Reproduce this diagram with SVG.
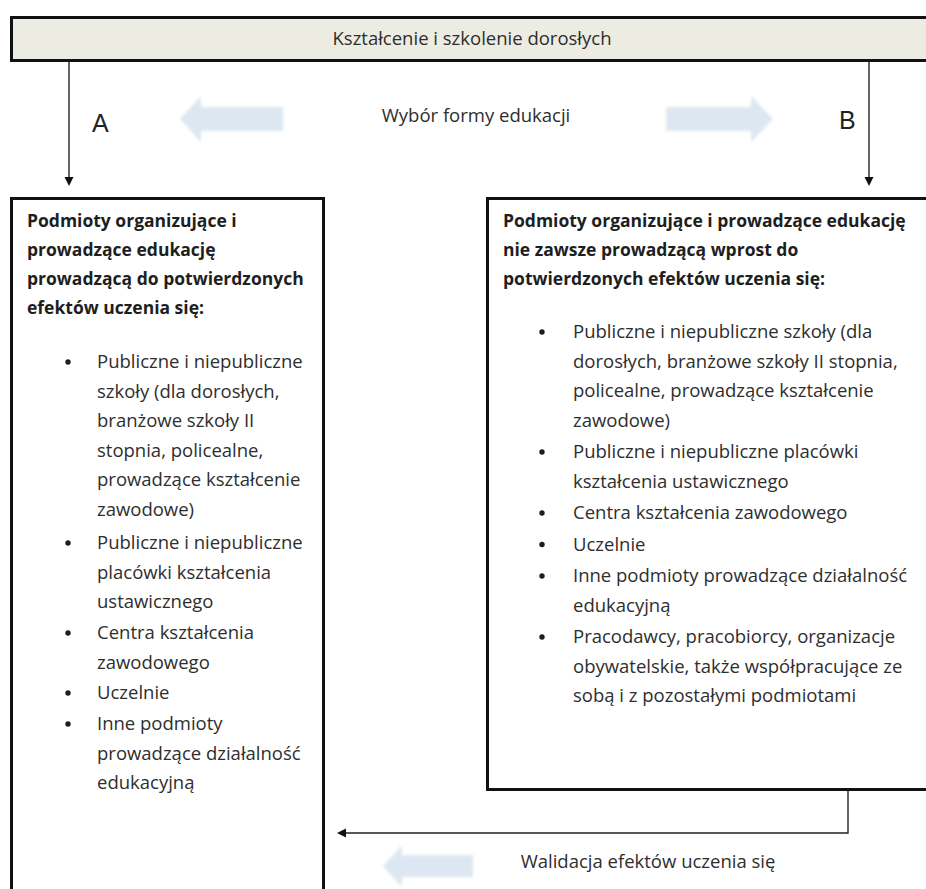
<svg xmlns="http://www.w3.org/2000/svg" width="926" height="889" viewBox="0 0 926 889">
  <style>
    .frame { fill: #ffffff; stroke: #111111; stroke-width: 3; }
    .bar { fill: #edece2; stroke: #111111; stroke-width: 3; }
    .conn { fill: none; stroke: #222222; stroke-width: 1.4; }
    .head { fill: #111111; }
    .txt { font-family: "Open Sans", "Noto Sans", sans-serif; font-size: 18.5px; fill: #2e2e2e; }
    .hdr { font-family: "Open Sans", "Noto Sans", sans-serif; font-size: 17.5px; font-weight: bold; fill: #1e1e1e; }
    .lbl { font-family: "Liberation Sans", Arial, sans-serif; font-size: 25px; fill: #222222; }
    .blk { fill: #dde7f2; }
    .dot { fill: #1e1e1e; }
  </style>
  <defs>
    <filter id="soft" x="-10%" y="-30%" width="120%" height="160%">
      <feGaussianBlur stdDeviation="1.6"/>
    </filter>
  </defs>

  <rect x="0" y="0" width="926" height="889" fill="#ffffff"/>

  <!-- top banner -->
  <g id="banner">
    <rect class="bar" x="11.5" y="17.5" width="930" height="43"/>
    <text class="txt" x="472" y="45" text-anchor="middle">Kształcenie i szkolenie dorosłych</text>
  </g>

  <!-- choice label with pale direction arrows -->
  <g id="choice">
    <text class="txt" x="476" y="122" text-anchor="middle">Wybór formy edukacji</text>
    <path class="blk" filter="url(#soft)" d="M283,107 L201,107 L201,96 L180,119 L201,142 L201,131 L283,131 Z"/>
    <path class="blk" filter="url(#soft)" d="M666,107 L751,107 L751,96 L773,119 L751,142 L751,131 L666,131 Z"/>
  </g>

  <!-- connectors -->
  <g id="connectors">
    <line class="conn" x1="69" y1="62" x2="69" y2="178"/>
    <polygon class="head" points="64.5,177 73.5,177 69,186"/>
    <line class="conn" x1="869" y1="62" x2="869" y2="178"/>
    <polygon class="head" points="864.5,177 873.5,177 869,186"/>
    <polyline class="conn" points="848,791 848,833 345,833"/>
    <polygon class="head" points="337,833 346,828.5 346,837.5"/>
    <text class="lbl" x="92" y="132">A</text>
    <text class="lbl" x="839" y="129">B</text>
  </g>

  <!-- path A: formal education -->
  <g id="box-a">
    <rect class="frame" x="11.5" y="198.5" width="312" height="720"/>
    <text class="hdr" x="27" y="227">Podmioty organizujące i</text>
    <text class="hdr" x="27" y="256">prowadzące edukację</text>
    <text class="hdr" x="27" y="285">prowadzącą do potwierdzonych</text>
    <text class="hdr" x="27" y="314">efektów uczenia się:</text>

    <circle class="dot" cx="68" cy="362" r="2.7"/>
    <text class="txt" x="97" y="368">Publiczne i niepubliczne</text>
    <text class="txt" x="97" y="397.5">szkoły (dla dorosłych,</text>
    <text class="txt" x="97" y="427">branżowe szkoły II</text>
    <text class="txt" x="97" y="456.5">stopnia, policealne,</text>
    <text class="txt" x="97" y="486">prowadzące kształcenie</text>
    <text class="txt" x="97" y="515.5">zawodowe)</text>

    <circle class="dot" cx="68" cy="543" r="2.7"/>
    <text class="txt" x="97" y="549">Publiczne i niepubliczne</text>
    <text class="txt" x="97" y="578.5">placówki kształcenia</text>
    <text class="txt" x="97" y="608">ustawicznego</text>

    <circle class="dot" cx="68" cy="633" r="2.7"/>
    <text class="txt" x="97" y="639">Centra kształcenia</text>
    <text class="txt" x="97" y="668.5">zawodowego</text>

    <circle class="dot" cx="68" cy="693" r="2.7"/>
    <text class="txt" x="97" y="699">Uczelnie</text>

    <circle class="dot" cx="68" cy="724" r="2.7"/>
    <text class="txt" x="97" y="730">Inne podmioty</text>
    <text class="txt" x="97" y="759.5">prowadzące działalność</text>
    <text class="txt" x="97" y="789">edukacyjną</text>
  </g>

  <!-- path B: other education -->
  <g id="box-b">
    <rect class="frame" x="487.5" y="198.5" width="460" height="591"/>
    <text class="hdr" x="503" y="227">Podmioty organizujące i prowadzące edukację</text>
    <text class="hdr" x="503" y="256">nie zawsze prowadzącą wprost do</text>
    <text class="hdr" x="503" y="285">potwierdzonych efektów uczenia się:</text>

    <circle class="dot" cx="542" cy="332" r="2.7"/>
    <text class="txt" x="573" y="338">Publiczne i niepubliczne szkoły (dla</text>
    <text class="txt" x="573" y="367.5">dorosłych, branżowe szkoły II stopnia,</text>
    <text class="txt" x="573" y="397">policealne, prowadzące kształcenie</text>
    <text class="txt" x="573" y="426.5">zawodowe)</text>

    <circle class="dot" cx="542" cy="452" r="2.7"/>
    <text class="txt" x="573" y="458">Publiczne i niepubliczne placówki</text>
    <text class="txt" x="573" y="487.5">kształcenia ustawicznego</text>

    <circle class="dot" cx="542" cy="513" r="2.7"/>
    <text class="txt" x="573" y="519">Centra kształcenia zawodowego</text>

    <circle class="dot" cx="542" cy="544.5" r="2.7"/>
    <text class="txt" x="573" y="550.5">Uczelnie</text>

    <circle class="dot" cx="542" cy="576" r="2.7"/>
    <text class="txt" x="573" y="582">Inne podmioty prowadzące działalność</text>
    <text class="txt" x="573" y="611.5">edukacyjną</text>

    <circle class="dot" cx="542" cy="637" r="2.7"/>
    <text class="txt" x="573" y="643">Pracodawcy, pracobiorcy, organizacje</text>
    <text class="txt" x="573" y="672.5">obywatelskie, także współpracujące ze</text>
    <text class="txt" x="573" y="702">sobą i z pozostałymi podmiotami</text>
  </g>

  <!-- validation label -->
  <g id="validation">
    <path class="blk" filter="url(#soft)" d="M473,855 L402,855 L402,845 L383,866 L402,887 L402,877 L473,877 Z"/>
    <text class="txt" x="648" y="868" text-anchor="middle">Walidacja efektów uczenia się</text>
  </g>
</svg>
